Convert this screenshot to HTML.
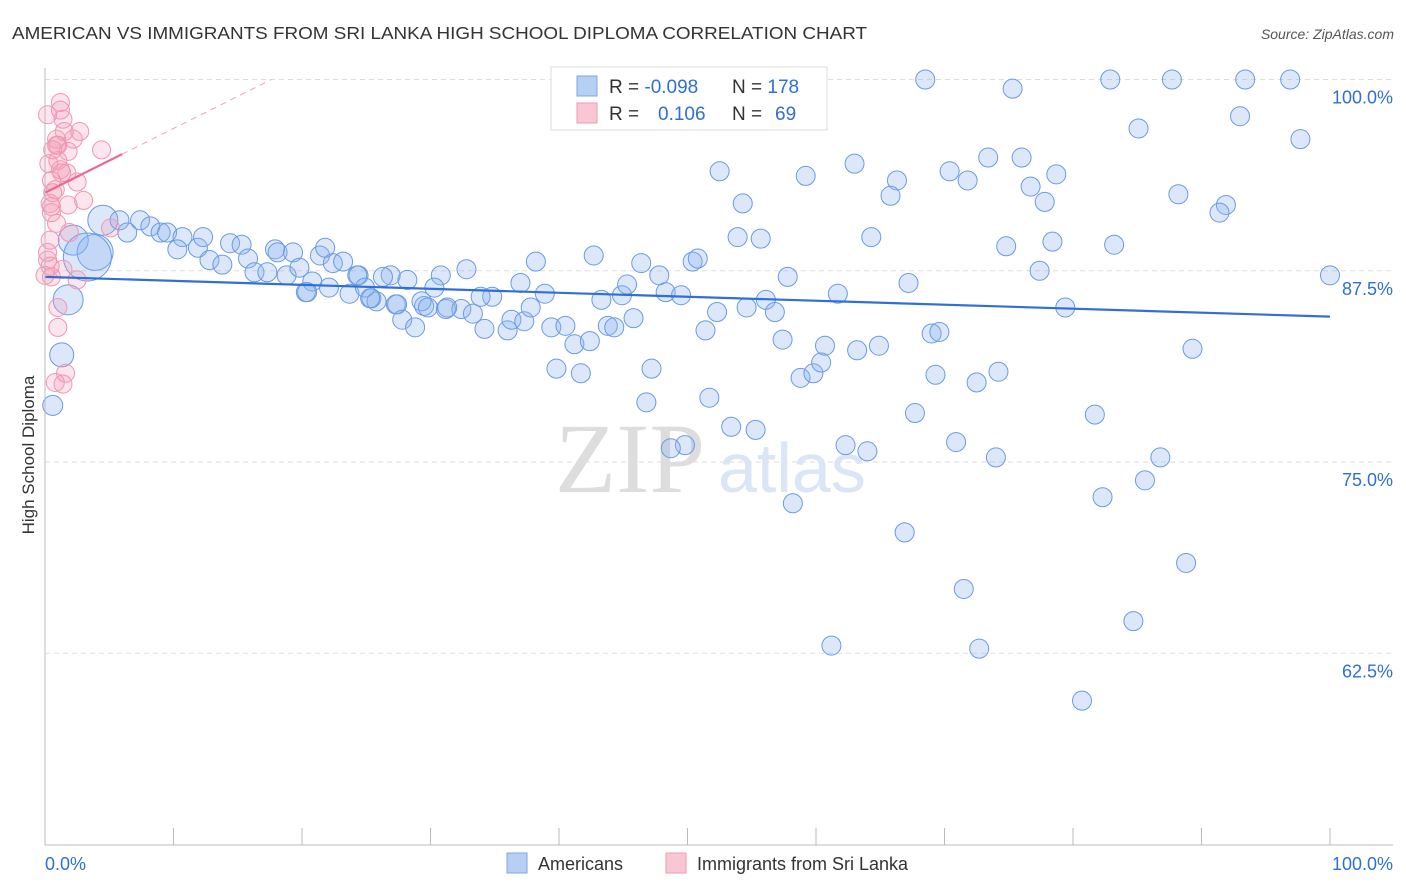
<!DOCTYPE html>
<html><head><meta charset="utf-8"><style>
body{margin:0;background:#fff;width:1406px;height:892px;overflow:hidden;font-family:"Liberation Sans",sans-serif}
svg{position:absolute;left:0;top:0}
</style></head><body>
<svg width="1406" height="892">
<text x="12" y="39" font-size="17.5" fill="#333" textLength="855" lengthAdjust="spacingAndGlyphs">AMERICAN VS IMMIGRANTS FROM SRI LANKA HIGH SCHOOL DIPLOMA CORRELATION CHART</text>
<text x="1394" y="39" font-size="14" fill="#555" font-style="italic" text-anchor="end">Source: ZipAtlas.com</text>
<g id="grid"></g>
<text x="555" y="492" font-size="100" font-family="Liberation Serif" fill="#ddd">ZIP</text>
<text x="718" y="492" font-size="70" fill="#dae5f6">atlas</text>
<g id="pts"></g>
<g id="axes"></g>
<text transform="translate(34,455) rotate(-90)" font-size="17" fill="#333" text-anchor="middle">High School Diploma</text>
<g>
<rect x="551" y="67" width="276" height="63" fill="#fff" stroke="#ddd"/>
<rect x="577" y="76" width="20" height="20" fill="#b7cff3" stroke="#7ea6e6"/>
<rect x="577" y="103" width="20" height="20" fill="#f9c6d4" stroke="#f09ab3"/>
<text x="609" y="93" font-size="19" fill="#333">R = <tspan fill="#2f6fd6">-0.098</tspan><tspan x="732">N = </tspan><tspan fill="#2f6fd6">178</tspan></text>
<text x="609" y="120" font-size="19" fill="#333">R = <tspan x="658" fill="#2f6fd6">0.106</tspan><tspan x="732">N = </tspan><tspan x="775" fill="#2f6fd6">69</tspan></text>
</g>
<g>
<rect x="507" y="853" width="20" height="20" fill="#b7cff3" stroke="#7ea6e6"/>
<text x="538" y="870" font-size="18" fill="#333">Americans</text>
<rect x="666" y="853" width="20" height="20" fill="#f9c6d4" stroke="#f09ab3"/>
<text x="697" y="870" font-size="18" fill="#333">Immigrants from Sri Lanka</text>
</g>
</svg>
<script>
const yTicks=[100,87.5,75,62.5];
const yTickLabels=["100.0%","87.5%","75.0%","62.5%"];
const xTicks=[0,10,20,30,40,50,60,70,80,90,100];
const blueX=[68.5,75.3,82.9,87.7,93.4,96.9,85.1,93.0,97.7,52.5,59.2,63.0,66.3,65.8,70.4,71.8,73.4,76.0,76.7,77.8,78.7,88.2,91.9,91.4,54.3,53.9,55.7,64.3,74.8,78.4,83.2,77.4,100.0,67.2,57.8,61.7,56.1,56.8,54.6,52.3,51.4,57.4,60.7,63.2,64.9,69.0,69.6,79.4,89.3,58.8,59.8,60.4,69.3,72.5,74.2,51.7,46.8,47.2,39.8,41.7,67.7,70.9,81.7,53.4,55.3,62.3,64.0,49.8,48.7,74.0,86.8,85.6,82.3,58.2,66.9,88.8,71.5,84.7,61.2,72.7,80.7,
42.7,38.2,32.8,30.8,28.2,26.9,24.4,22.1,20.3,23.7,25.4,25.8,27.3,29.5,31.2,32.4,33.3,34.2,34.8,36.0,36.3,37.3,37.0,38.9,37.8,39.4,40.5,41.2,42.4,43.8,44.3,45.8,43.3,44.9,45.3,46.4,47.8,48.3,49.5,50.4,50.8,33.9,
2.2,3.9,3.3,1.8,1.3,0.6,4.5,5.8,6.4,7.4,8.2,9.0,9.5,10.7,10.3,11.9,12.3,12.8,13.8,14.4,15.3,15.8,16.3,17.3,17.9,18.1,19.3,18.8,19.8,20.8,21.4,21.8,22.4,23.2,24.3,24.9,25.3,26.3,27.4,27.8,28.8,29.3,29.8,30.3,31.3,20.4];
const blueY=[100,99.4,100,100,100,100,96.8,97.6,96.1,94.0,93.7,94.5,93.4,92.4,94.0,93.4,94.9,94.9,93.0,92.0,93.8,92.5,91.8,91.3,91.9,89.7,89.6,89.7,89.1,89.4,89.2,87.5,87.2,86.7,87.1,86.0,85.6,84.8,85.1,84.8,83.6,83.0,82.6,82.3,82.6,83.4,83.5,85.1,82.4,80.5,80.8,81.5,80.7,80.2,80.9,79.2,78.9,81.1,81.1,80.8,78.2,76.3,78.1,77.3,77.1,76.1,75.7,76.1,75.9,75.3,75.3,73.8,72.7,72.3,70.4,68.4,66.7,64.6,63.0,62.8,59.4,
88.5,88.1,87.6,87.2,86.9,87.2,87.2,86.4,86.1,86.0,85.7,85.5,85.3,85.2,85.0,85.0,84.7,83.7,85.8,83.6,84.3,84.2,86.7,86.0,85.1,83.8,83.9,82.7,82.9,83.9,83.8,84.4,85.6,85.9,86.6,88.0,87.2,86.1,85.9,88.1,88.3,85.8,
89.5,88.7,88.4,85.6,82.0,78.7,90.8,90.8,90.0,90.8,90.4,90.0,90.0,89.7,88.9,89.0,89.7,88.2,87.9,89.3,89.2,88.3,87.4,87.4,88.9,88.7,88.7,87.2,87.7,86.8,88.5,89.0,88.0,88.1,87.2,86.4,85.7,87.1,85.3,84.3,83.8,85.5,85.1,86.4,85.1,86.1];
const bigBlue={0:15,1:18,2:24,3:15,4:12,5:10,6:15};
const pinkX=[1.2,1.2,1.4,2.7,2.2,4.4,0.9,0.6,1.0,1.2,1.7,2.5,0.5,0.6,3.0,0.4,0.5,0.9,1.9,5.1,0.4,0.2,0.4,1.4,2.5,0.5,1.0,1.0,1.6,0.8,1.4,0.2,1.0,1.8,0.3,0.5,1.3,0.8,0.2,0.0,1.5,1.8,0.9];
const pinkY=[98.5,98.0,97.4,96.6,96.1,95.4,96.1,95.4,94.7,94.1,93.9,93.3,93.4,92.6,92.1,91.9,91.3,90.6,90.0,90.3,89.5,88.7,87.8,87.6,86.9,87.1,85.1,83.8,80.8,80.2,80.1,97.7,95.7,95.3,94.5,91.7,93.9,92.8,88.2,87.2,96.6,91.8,95.7];
const blueTrend=[87.1,84.5];
const pinkTrend=[92.6,0.42];
const NS="http://www.w3.org/2000/svg";
const sx=v=>45+v*12.85, sy=v=>79.5+(100-v)*15.3;
function mk(t,a,p){const e=document.createElementNS(NS,t);for(const k in a)e.setAttribute(k,a[k]);p.appendChild(e);return e;}
const grid=document.getElementById('grid'),axes=document.getElementById('axes'),pts=document.getElementById('pts');
yTicks.forEach((v,i)=>{
 const l=mk('line',{x1:45,x2:1393,y1:sy(v),y2:sy(v),stroke:'#ddd','stroke-dasharray':'5,4'},grid);
 
 
 const t=mk('text',{x:1393,y:sy(v)+24,'font-size':18,fill:'#2f6fd6','text-anchor':'end'},axes);
 t.textContent=yTickLabels[i];
 
 
});
mk('line',{x1:45,x2:45,y1:68,y2:845,stroke:'#bbb'},axes);
mk('line',{x1:45,x2:1393,y1:845,y2:845,stroke:'#bbb'},axes);
xTicks.forEach(v=>{
 const l=mk('line',{x1:sx(v),x2:sx(v),y1:828,y2:845,stroke:'#bbb'},axes);
 
 
});
const x0=mk('text',{x:45,y:870,'font-size':18,fill:'#2f6fd6'},axes);x0.textContent='0.0%';


const x1=mk('text',{x:1393,y:870,'font-size':18,fill:'#2f6fd6','text-anchor':'end'},axes);x1.textContent='100.0%';


blueX.forEach((v,i)=>{
 const c=mk('circle',{cx:sx(v),cy:sy(blueY[i]),r:bigBlue[i-123]||9.5,fill:'rgba(140,180,240,0.3)',stroke:'#6a9ae6','stroke-width':1},pts);
 
 
});
pinkX.forEach((v,i)=>{
 const c=mk('circle',{cx:sx(v),cy:sy(pinkY[i]),r:9,fill:'rgba(245,150,180,0.25)',stroke:'#f296b2','stroke-width':1},pts);
 
 
});
const bl=mk('line',{x1:sx(0),y1:sy(blueTrend[0]),x2:sx(100),y2:sy(blueTrend[1]),stroke:'#2f6fd6','stroke-width':2.2},pts);


const pf=x=>pinkTrend[0]+pinkTrend[1]*x;
const pl=mk('line',{x1:sx(0),y1:sy(pf(0)),x2:sx(6),y2:sy(pf(6)),stroke:'#ec6a92','stroke-width':2.2},pts);


const pd=mk('line',{x1:sx(6),y1:sy(pf(6)),x2:sx(17.6),y2:sy(pf(17.6)),stroke:'#f2a0b8','stroke-width':1,'stroke-dasharray':'6,5'},pts);


</script>
</body></html>
